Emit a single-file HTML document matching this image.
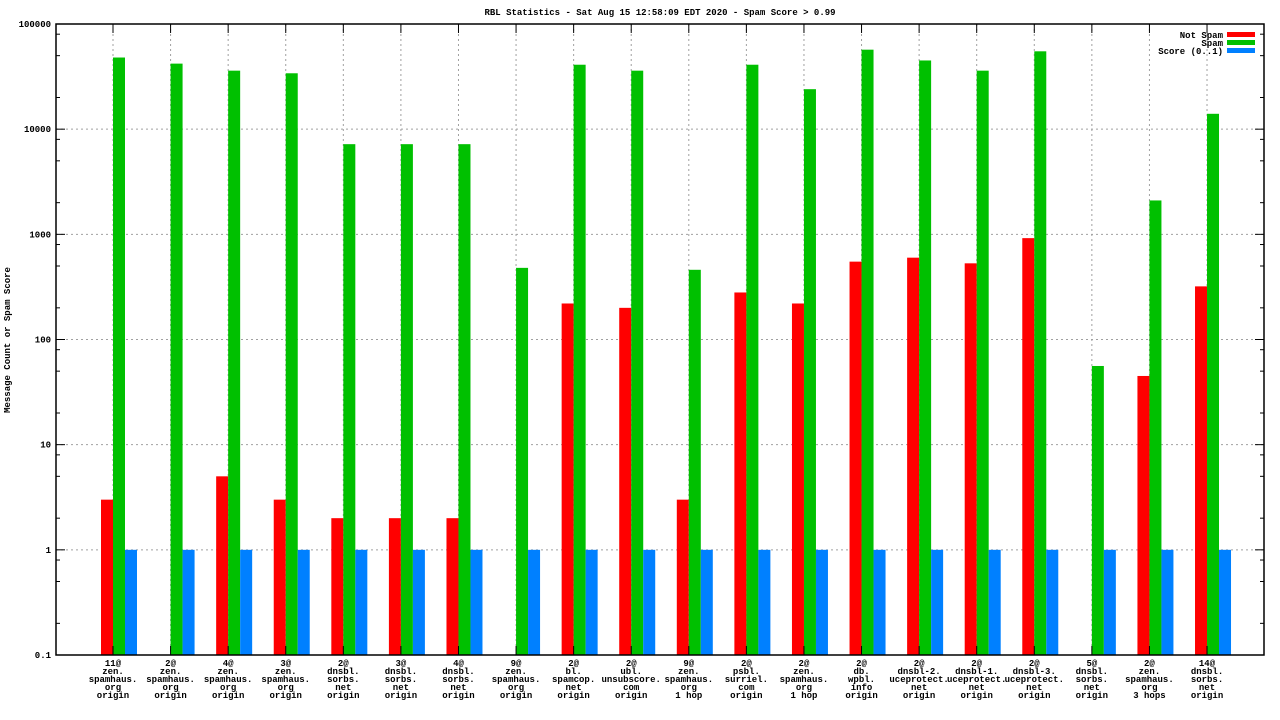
<!DOCTYPE html>
<html><head><meta charset="utf-8"><style>
html,body{margin:0;padding:0;background:#fff;}
svg{display:block;font-family:"Liberation Mono","DejaVu Sans Mono",monospace;font-weight:bold;}
</style></head><body>
<svg id="chart" width="1280" height="720" xmlns="http://www.w3.org/2000/svg">
<text x="660" y="15" font-size="9" text-anchor="middle">RBL Statistics - Sat Aug 15 12:58:09 EDT 2020 - Spam Score &gt; 0.99</text>
<text transform="translate(10,340) rotate(-90)" font-size="9" text-anchor="middle">Message Count or Spam Score</text>
<g id="grid"></g>
<g id="bars"></g>
<g id="axes"></g>
<g font-size="9">
<text x="1223" y="38" text-anchor="end">Not Spam</text>
<rect x="1227" y="32" width="28" height="5" fill="#ff0000"/>
<text x="1223" y="46" text-anchor="end">Spam</text>
<rect x="1227" y="40" width="28" height="5" fill="#00c000"/>
<text x="1223" y="54" text-anchor="end">Score (0..1)</text>
<rect x="1227" y="48" width="28" height="5" fill="#0080ff"/>
</g>
</svg>
<script>
const categories = [
 ["11@","zen.","spamhaus.","org","origin"],
 ["2@","zen.","spamhaus.","org","origin"],
 ["4@","zen.","spamhaus.","org","origin"],
 ["3@","zen.","spamhaus.","org","origin"],
 ["2@","dnsbl.","sorbs.","net","origin"],
 ["3@","dnsbl.","sorbs.","net","origin"],
 ["4@","dnsbl.","sorbs.","net","origin"],
 ["9@","zen.","spamhaus.","org","origin"],
 ["2@","bl.","spamcop.","net","origin"],
 ["2@","ubl.","unsubscore.","com","origin"],
 ["9@","zen.","spamhaus.","org","1 hop"],
 ["2@","psbl.","surriel.","com","origin"],
 ["2@","zen.","spamhaus.","org","1 hop"],
 ["2@","db.","wpbl.","info","origin"],
 ["2@","dnsbl-2.","uceprotect.","net","origin"],
 ["2@","dnsbl-1.","uceprotect.","net","origin"],
 ["2@","dnsbl-3.","uceprotect.","net","origin"],
 ["5@","dnsbl.","sorbs.","net","origin"],
 ["2@","zen.","spamhaus.","org","3 hops"],
 ["14@","dnsbl.","sorbs.","net","origin"]
];
const notSpam = [3,0,5,3,2,2,2,0,220,200,3,280,220,550,600,530,920,0,45,320];
const spam = [48000,42000,36000,34000,7200,7200,7200,480,41000,36000,460,41000,24000,57000,45000,36000,55000,56,2100,14000];
const score = [1,1,1,1,1,1,1,1,1,1,1,1,1,1,1,1,1,1,1,1];
const yTicks = [0.1,1,10,100,1000,10000,100000];
const yTickLabels = ["0.1","1","10","100","1000","10000","100000"];
const minorMult = [2,5,8];

const NS="http://www.w3.org/2000/svg";
const L=56,R=1264,T=24,B=655;
const yMin=0.1,yMax=100000;
function y(v){return B-(Math.log10(v)-Math.log10(yMin))/(Math.log10(yMax)-Math.log10(yMin))*(B-T);}
const step=57.58, x0=113;
function xc(i){return x0+step*i;}
function mk(tag,attrs,parent){const e=document.createElementNS(NS,tag);for(const k in attrs)e.setAttribute(k,attrs[k]);parent.appendChild(e);return e;}
const grid=document.getElementById('grid'),bars=document.getElementById('bars'),axes=document.getElementById('axes');
yTicks.forEach((v,i)=>{
 const yy=y(v);
 if(i>0&&i<yTicks.length-1){const g=mk('line',{x1:L,x2:R,y1:yy,y2:yy,stroke:'#a0a0a0','stroke-dasharray':'2,3'},grid);
 
 }
 const t=mk('text',{x:L-5,y:yy+3,'font-size':9,'text-anchor':'end'},axes);
 t.textContent=yTickLabels[i];
 
 
 mk('line',{x1:L,x2:L+9,y1:yy,y2:yy,stroke:'#000'},axes);
 mk('line',{x1:R,x2:R-9,y1:yy,y2:yy,stroke:'#000'},axes);
 if(i<yTicks.length-1){minorMult.forEach(m=>{const ym=y(v*m);
  mk('line',{x1:L,x2:L+4,y1:ym,y2:ym,stroke:'#000'},axes);
  mk('line',{x1:R,x2:R-4,y1:ym,y2:ym,stroke:'#000'},axes);});}
});
categories.forEach((c,i)=>{
 const x=xc(i);
 const g=mk('line',{x1:x,x2:x,y1:T,y2:B,stroke:'#a0a0a0','stroke-dasharray':'2,3'},grid);
 
 
 mk('line',{x1:x,x2:x,y1:B,y2:B-9,stroke:'#000'},axes);
 mk('line',{x1:x,x2:x,y1:T,y2:T+9,stroke:'#000'},axes);
 const t=mk('text',{x:x,y:666,'font-size':9,'text-anchor':'middle'},axes);
 
 
 c.forEach((line,j)=>{const s=mk('tspan',{x:x,dy:j?8:0},t);s.textContent=line;});
 const series=[[notSpam,'#ff0000',-12,'bar-not-spam'],[spam,'#00c000',0,'bar-spam'],[score,'#0080ff',12,'bar-score']];
 series.forEach(([arr,col,off,name])=>{
  const v=arr[i]; if(!(v>yMin))return;
  const top=y(v);
  const r=mk('rect',{x:x+off,y:top,width:12,height:B-top,fill:col},bars);
  
  
 });
});
const fr=mk('rect',{x:L,y:T,width:R-L,height:B-T,fill:'none',stroke:'#000','stroke-width':1.5},axes);


</script>
</body></html>
